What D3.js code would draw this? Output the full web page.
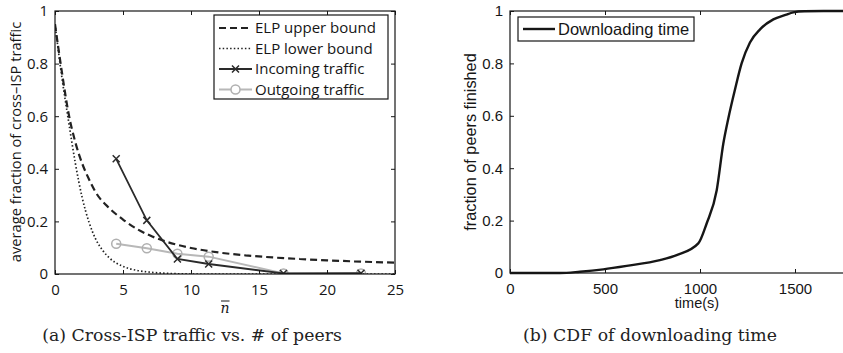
<!DOCTYPE html>
<html>
<head>
<meta charset="utf-8">
<script src="https://cdn.jsdelivr.net/npm/d3@7"></script>
<style>
  html, body { margin: 0; padding: 0; background: #fff; }
  svg { display: block; }
</style>
</head>
<body>
<svg id="fig" width="843" height="353"></svg>
<script>
// ---- (a) cross-ISP traffic vs. number of peers ----
const nTicks = [0, 5, 10, 15, 20, 25];
const fracTicks = [0, 0.2, 0.4, 0.6, 0.8, 1];

const upperN = [0, 0.5, 1, 1.5, 2, 2.5, 3, 4, 5, 6, 7, 8, 9, 10, 12, 14, 16, 18, 20, 22, 25];
const upperV = [0.95, 0.77, 0.61, 0.5, 0.42, 0.36, 0.31, 0.25, 0.207, 0.172, 0.146, 0.126, 0.111, 0.099, 0.082, 0.071, 0.063, 0.057, 0.052, 0.048, 0.043];

const lowerN = [0, 0.5, 1, 1.5, 2, 2.5, 3, 3.5, 4, 5, 6, 7, 8, 9, 10, 25];
const lowerV = [0.95, 0.75, 0.58, 0.42, 0.29, 0.197, 0.132, 0.09, 0.061, 0.029, 0.014, 0.007, 0.003, 0.001, 0, 0];

const peerN = [4.5, 6.75, 9.0, 11.3, 16.8, 22.5];
const incoming = [0.438, 0.204, 0.057, 0.038, 0.002, 0.003];
const outgoing = [0.115, 0.098, 0.077, 0.066, 0.002, 0.002];

// ---- (b) CDF of downloading time ----
const timeTicks = [0, 500, 1000, 1500];
const cdfT = [0, 263, 368, 491, 614, 789, 877, 991, 1035, 1088, 1123, 1149, 1184, 1219, 1263, 1316, 1386, 1450, 1491, 1550, 1650, 1800];
const cdfV = [0, 0, 0.005, 0.014, 0.027, 0.049, 0.068, 0.113, 0.189, 0.316, 0.495, 0.59, 0.70, 0.80, 0.88, 0.93, 0.968, 0.985, 0.995, 0.999, 1, 1];

const svg = d3.select("#fig");
const leftFont = "'Open Sans', sans-serif";
const rightFont = "'Liberation Sans', Arial, sans-serif";
const ink = "#161616";

function frame(g, x, y, xTicks, yTicks, font, size) {
  const [x0, x1] = x.range();
  const [y0, y1] = y.range();
  const tl = 4;
  g.append("rect").attr("x", x0).attr("y", y1).attr("width", x1 - x0).attr("height", y0 - y1)
    .attr("fill", "none").attr("stroke", ink).attr("stroke-width", 1.2);
  // inward ticks on all four sides
  const bottom = d3.axisBottom(x).tickValues(xTicks).tickSize(-tl).tickPadding(10).tickFormat(d3.format("d"));
  const top = d3.axisTop(x).tickValues(xTicks).tickSize(-tl).tickFormat("");
  const left = d3.axisLeft(y).tickValues(yTicks).tickSize(-tl).tickPadding(7).tickFormat(d3.format("~g"));
  const right = d3.axisRight(y).tickValues(yTicks).tickSize(-tl).tickFormat("");
  const axes = [
    [bottom, `translate(0,${y0})`], [top, `translate(0,${y1})`],
    [left, `translate(${x0},0)`], [right, `translate(${x1},0)`]
  ];
  axes.forEach(([ax, tr]) => {
    const a = g.append("g").attr("transform", tr).call(ax);
    a.select(".domain").remove();
    a.selectAll("line").attr("stroke", ink);
    a.selectAll("text").attr("font-family", font).attr("font-size", size).attr("fill", ink);
  });
}

// ---------- panel (a) ----------
const xa = d3.scaleLinear().domain([0, 25]).range([55, 395]);
const ya = d3.scaleLinear().domain([0, 1]).range([274, 11]);
const ga = svg.append("g");

ga.append("defs").append("clipPath").attr("id", "clipA")
  .append("rect").attr("x", 55).attr("y", 11).attr("width", 340).attr("height", 263);

const lineA = d3.line().x(d => xa(d[0])).y(d => ya(d[1])).curve(d3.curveMonotoneX);
const plotA = ga.append("g").attr("clip-path", "url(#clipA)");

plotA.append("path").datum(d3.zip(lowerN, lowerV)).attr("d", lineA)
  .attr("fill", "none").attr("stroke", "#222").attr("stroke-width", 1.7).attr("stroke-dasharray", "1.5,2.2");
plotA.append("path").datum(d3.zip(upperN, upperV)).attr("d", lineA)
  .attr("fill", "none").attr("stroke", "#222").attr("stroke-width", 2.2).attr("stroke-dasharray", "7,4");

const straight = d3.line().x(d => xa(d[0])).y(d => ya(d[1]));
const outPts = d3.zip(peerN, outgoing);
const inPts = d3.zip(peerN, incoming);

plotA.append("path").datum(outPts).attr("d", straight)
  .attr("fill", "none").attr("stroke", "#b8b8b8").attr("stroke-width", 2);
plotA.selectAll("circle.out").data(outPts).join("circle").attr("class", "out")
  .attr("cx", d => xa(d[0])).attr("cy", d => ya(d[1])).attr("r", 4.5)
  .attr("fill", "none").attr("stroke", "#b0b0b0").attr("stroke-width", 1.5);

plotA.append("path").datum(inPts).attr("d", straight)
  .attr("fill", "none").attr("stroke", "#2a2a2a").attr("stroke-width", 1.8);
const cross = (sel, s) => sel.attr("d", d => {
  const cx = xa(d[0]), cy = ya(d[1]);
  return `M${cx - s},${cy - s}L${cx + s},${cy + s}M${cx - s},${cy + s}L${cx + s},${cy - s}`;
});
plotA.selectAll("path.in").data(inPts).join("path").attr("class", "in")
  .call(cross, 3.5).attr("stroke", "#2a2a2a").attr("stroke-width", 1.5).attr("fill", "none");

frame(ga, xa, ya, nTicks, fracTicks, leftFont, 15);

// legend (a)
const legA = ga.append("g");
legA.append("rect").attr("x", 214).attr("y", 15).attr("width", 174).attr("height", 84)
  .attr("fill", "#fff").attr("stroke", ink).attr("stroke-width", 1.2);
const legItems = [
  { label: "ELP upper bound", dash: "7,4", color: "#222", w: 2.2 },
  { label: "ELP lower bound", dash: "1.5,2.2", color: "#222", w: 1.7 },
  { label: "Incoming traffic", dash: null, color: "#2a2a2a", w: 1.8, mark: "x" },
  { label: "Outgoing traffic", dash: null, color: "#b8b8b8", w: 2, mark: "o" }
];
legItems.forEach((it, i) => {
  const yy = 28 + i * 20.5;
  const l = legA.append("line").attr("x1", 219).attr("x2", 252).attr("y1", yy).attr("y2", yy)
    .attr("stroke", it.color).attr("stroke-width", it.w);
  if (it.dash) l.attr("stroke-dasharray", it.dash);
  if (it.mark === "x") {
    const s = 3.5, cx = 235.5;
    legA.append("path").attr("d", `M${cx - s},${yy - s}L${cx + s},${yy + s}M${cx - s},${yy + s}L${cx + s},${yy - s}`)
      .attr("stroke", it.color).attr("stroke-width", 1.5);
  }
  if (it.mark === "o") {
    legA.append("circle").attr("cx", 235.5).attr("cy", yy).attr("r", 4.5)
      .attr("fill", "#fff").attr("stroke", "#b0b0b0").attr("stroke-width", 1.5);
  }
  legA.append("text").attr("x", 255).attr("y", yy).attr("dy", "0.35em")
    .attr("font-family", leftFont).attr("font-size", 15).attr("fill", ink).text(it.label);
});

// axis labels (a)
ga.append("text").attr("transform", "translate(21,142) rotate(-90)").attr("text-anchor", "middle")
  .attr("font-family", leftFont).attr("font-size", 14.7).attr("fill", ink)
  .text("average fraction of cross–ISP traffic");
ga.append("text").attr("x", 225).attr("y", 313).attr("text-anchor", "middle")
  .attr("font-family", "'DejaVu Serif', serif").attr("font-style", "italic").attr("font-size", 14).attr("fill", ink)
  .text("n");
ga.append("line").attr("x1", 221).attr("x2", 229.5).attr("y1", 301).attr("y2", 301)
  .attr("stroke", ink).attr("stroke-width", 1);

// ---------- panel (b) ----------
const xb = d3.scaleLinear().domain([0, 1800]).range([510, 852]);
const yb = d3.scaleLinear().domain([0, 1]).range([273, 11]);
const gb = svg.append("g");

gb.append("path").datum(d3.zip(cdfT, cdfV))
  .attr("d", d3.line().x(d => xb(d[0])).y(d => yb(d[1])).curve(d3.curveMonotoneX))
  .attr("fill", "none").attr("stroke", ink).attr("stroke-width", 2.4);

frame(gb, xb, yb, timeTicks, fracTicks, rightFont, 15);

const legB = gb.append("g");
legB.append("rect").attr("x", 518).attr("y", 17).attr("width", 176).attr("height", 24)
  .attr("fill", "#fff").attr("stroke", ink).attr("stroke-width", 1.2);
legB.append("line").attr("x1", 523).attr("x2", 555).attr("y1", 29).attr("y2", 29)
  .attr("stroke", ink).attr("stroke-width", 2.4);
legB.append("text").attr("x", 558).attr("y", 29).attr("dy", "0.35em")
  .attr("font-family", rightFont).attr("font-size", 16.5).attr("fill", ink).text("Downloading time");

gb.append("text").attr("transform", "translate(476,142) rotate(-90)").attr("text-anchor", "middle")
  .attr("font-family", rightFont).attr("font-size", 16.3).attr("fill", ink)
  .text("fraction of peers finished");
gb.append("text").attr("x", 697).attr("y", 308).attr("text-anchor", "middle")
  .attr("font-family", rightFont).attr("font-size", 14.5).attr("fill", ink).text("time(s)");

// ---------- captions ----------
svg.append("text").attr("x", 192).attr("y", 341).attr("text-anchor", "middle")
  .attr("font-family", "'DejaVu Serif', serif").attr("font-size", 17.3).attr("fill", "#222")
  .text("(a) Cross-ISP traffic vs. # of peers");
svg.append("text").attr("x", 650).attr("y", 341).attr("text-anchor", "middle")
  .attr("font-family", "'DejaVu Serif', serif").attr("font-size", 17.3).attr("fill", "#222")
  .text("(b) CDF of downloading time");
</script>
</body>
</html>
